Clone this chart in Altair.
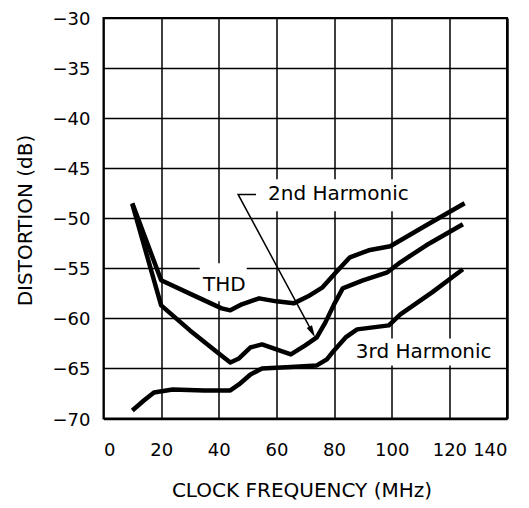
import altair as alt
import pandas as pd

# ---- data ----
thd_freq = [10, 20, 32, 41, 44, 48, 54, 60, 66, 71, 76, 81, 85.5, 92, 99.5, 112, 125.3]
thd_db = [-48.5, -56.2, -57.8, -59.0, -59.2, -58.6, -58.0, -58.3, -58.5, -57.8, -56.9, -55.3, -53.9, -53.2, -52.8, -50.7, -48.5]

h2_freq = [10, 20, 30, 40, 44, 47, 51, 55, 60, 65, 70, 74, 77, 80, 83, 90, 98.5, 103, 112, 124.7]
h2_db = [-48.6, -58.7, -61.2, -63.5, -64.4, -64.0, -62.9, -62.6, -63.1, -63.6, -62.7, -61.9, -60.4, -58.6, -57.0, -56.2, -55.4, -54.4, -52.7, -50.6]

h3_freq = [10, 14, 17.5, 24, 35, 44, 47, 51, 55, 65, 74, 77.5, 80, 84, 88, 99, 103, 114, 124.7]
h3_db = [-69.2, -68.2, -67.4, -67.1, -67.2, -67.2, -66.6, -65.6, -65.0, -64.85, -64.7, -64.1, -63.2, -61.9, -61.1, -60.7, -59.6, -57.4, -55.1]

x_ticks = [0, 20, 40, 60, 80, 100, 120, 140]
y_ticks = [-70, -65, -60, -55, -50, -45, -40, -35, -30]

ann_text = ["THD", "2nd Harmonic", "3rd Harmonic"]
ann_x = [41.9, 81.5, 111.1]
ann_y = [-56.7, -47.6, -63.4]
box_x1 = [33.4, 54.9, 83.7]
box_x2 = [49.7, 109.0, 138.5]
box_y1 = [-54.5, -46.1, -62.0]
box_y2 = [-58.3, -49.3, -64.7]

arrow_x = [52.9, 46.7, 72.4]
arrow_y = [-47.62, -47.62, -61.35]
head_x = [72.4]
head_y = [-61.35]

# ---- tables ----
rows = []
for name, xs, ys in [("THD", thd_freq, thd_db), ("2nd", h2_freq, h2_db), ("3rd", h3_freq, h3_db)]:
    for i, (x, y) in enumerate(zip(xs, ys)):
        rows.append({"series": name, "freq": x, "db": y, "i": i})
curves = pd.DataFrame(rows)

ann = pd.DataFrame({"text": ann_text, "x": ann_x, "y": ann_y,
                    "x1": box_x1, "x2": box_x2, "y1": box_y1, "y2": box_y2})
arrow = pd.DataFrame({"x": arrow_x, "y": arrow_y, "i": list(range(len(arrow_x)))})
head = pd.DataFrame({"x": head_x, "y": head_y})

FONT = "DejaVu Sans"

xscale = alt.Scale(domain=[0, 140], nice=False, zero=False)
yscale = alt.Scale(domain=[-70, -30], nice=False, zero=False)

xaxis = alt.Axis(values=x_ticks, title="CLOCK FREQUENCY (MHz)", grid=True, gridColor="black",
                 gridOpacity=1, gridWidth=1.5, domain=False, ticks=False, labelFont=FONT,
                 labelFontSize=18, labelColor="black", labelBaseline="alphabetic", labelPadding=36.5,
                 titleFont=FONT, titleFontSize=20, titleFontWeight="normal", titleColor="black",
                 titleBaseline="alphabetic", titleX=198, titleY=77.5, titleAlign="center")
yaxis = alt.Axis(values=y_ticks, title="DISTORTION (dB)", grid=True, gridColor="black",
                 gridOpacity=1, gridWidth=1.5, domain=False, ticks=False, labelFont=FONT,
                 labelFontSize=18, labelColor="black", labelPadding=13.5,
                 labelBaseline="alphabetic", labelOffset=6.5,
                 titleFont=FONT, titleFontSize=20, titleFontWeight="normal", titleColor="black",
                 titleBaseline="alphabetic", titleAngle=270, titleX=-72, titleY=202, titleAlign="center")

boxes = alt.Chart(ann).mark_rect(color="white").encode(
    x=alt.X("x1:Q", scale=xscale, axis=xaxis),
    x2="x2:Q",
    y=alt.Y("y1:Q", scale=yscale, axis=yaxis),
    y2="y2:Q",
)

lines = alt.Chart(curves).mark_line(color="black", strokeWidth=4.5, strokeJoin="round").encode(
    x=alt.X("freq:Q", scale=xscale),
    y=alt.Y("db:Q", scale=yscale),
    detail="series:N",
    order="i:Q",
)

texts = alt.Chart(ann).mark_text(font=FONT, fontSize=20, color="black", align="center",
                                 baseline="middle").encode(
    x=alt.X("x:Q", scale=xscale),
    y=alt.Y("y:Q", scale=yscale),
    text="text:N",
)

arrow_line = alt.Chart(arrow).mark_line(color="black", strokeWidth=1.5).encode(
    x=alt.X("x:Q", scale=xscale),
    y=alt.Y("y:Q", scale=yscale),
    order="i:Q",
)

arrow_head = alt.Chart(head).mark_point(shape="M0,-1L0.5,1L-0.5,1Z", filled=True, size=144,
                                        angle=152, color="black", opacity=1).encode(
    x=alt.X("x:Q", scale=xscale),
    y=alt.Y("y:Q", scale=yscale),
)

chart = alt.layer(boxes, lines, texts, arrow_line, arrow_head).properties(
    width=403.5, height=400.5,
    autosize=alt.AutoSizeParams(type="none"),
    padding={"left": 95.5, "top": 10, "right": 14, "bottom": 84},
    background="white",
).configure_view(stroke="black", strokeWidth=2)

chart.save("out.html", embed_options={"renderer": "svg", "actions": False})
